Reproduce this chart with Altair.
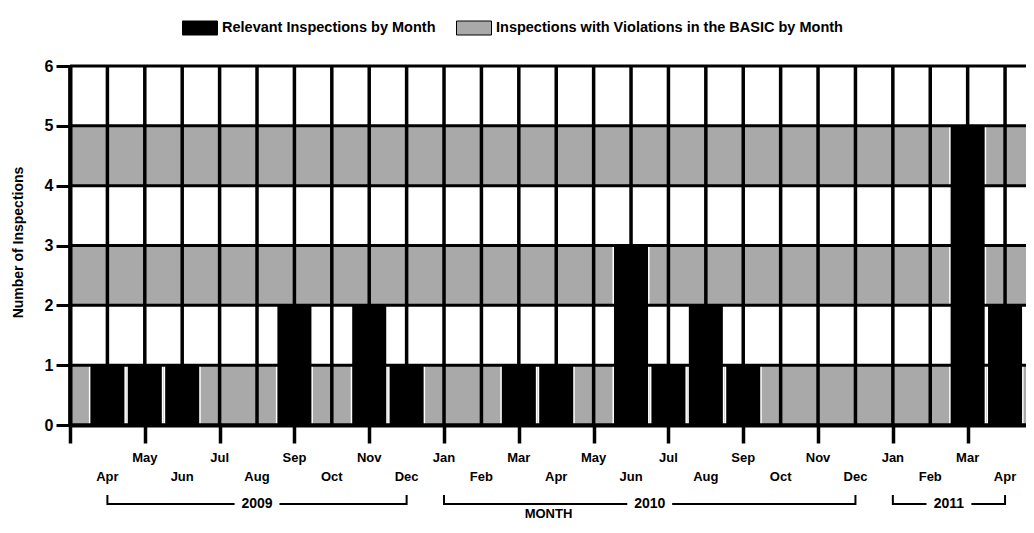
import altair as alt
import pandas as pd

FONT = "Liberation Sans"

# ---- data ----
month_labels = ["Apr", "May", "Jun", "Jul", "Aug", "Sep", "Oct", "Nov", "Dec",
                "Jan", "Feb", "Mar", "Apr", "May", "Jun", "Jul", "Aug", "Sep",
                "Oct", "Nov", "Dec", "Jan", "Feb", "Mar", "Apr"]
month_index = list(range(1, 26))
relevant = [1, 1, 1, 0, 0, 2, 0, 2, 1, 0, 0, 1, 1, 0, 3, 1, 2, 1, 0, 0, 0, 0, 0, 5, 2]
series_names = ["Relevant Inspections by Month",
                "Inspections with Violations in the BASIC by Month"]
band_low = [0, 2, 4]
band_high = [1, 3, 5]
y_levels = [0, 1, 2, 3, 4, 5, 6]
tick_index = list(range(0, 26))
years = ["2009", "2010", "2011"]
year_start = [1, 10, 22]
year_end = [9, 21, 25]
x_max = 25.56
y_max = 6

bars_df = pd.DataFrame({"i": month_index, "n": relevant, "z": 0,
                        "series": series_names[0]})
labels_df = pd.DataFrame({"i": month_index, "label": month_labels})
bands_df = pd.DataFrame({"lo": band_low, "hi": band_high, "x0": 0.0, "x1": x_max,
                         "series": series_names[1]})
vrule_df = pd.DataFrame({"i": tick_index, "y0": 0, "y1": y_max})
hrule_df = pd.DataFrame({"y": y_levels, "x0": 0.0, "x1": x_max})
year_df = pd.DataFrame({"year": years, "s": year_start, "e": year_end})

x_scale = alt.Scale(domain=[0, x_max], nice=False, zero=False)
y_scale = alt.Scale(domain=[0, y_max], nice=False)
color_scale = alt.Scale(domain=series_names, range=["#000000", "#a9a9a9"])

x_axis = alt.Axis(values=tick_index, labels=False, tickSize=18, tickWidth=3.5,
                  tickColor="black", domainColor="black", domainWidth=4, grid=False,
                  title="MONTH", titleFont=FONT, titleFontSize=13, titleFontWeight="bold",
                  titleColor="black", titleY=88, titleBaseline="middle", zindex=1)

y_axis = alt.Axis(values=y_levels, format="d", tickSize=14, tickWidth=3,
                  tickColor="black", domainColor="black", domainWidth=4, grid=False,
                  labelFont=FONT, labelFontSize=16, labelFontWeight="bold",
                  labelColor="black", labelPadding=3, labelFlush=False,
                  title="Number of Inspections", titleFont=FONT, titleFontSize=14,
                  titleFontWeight="bold", titleColor="black", titleX=-52, titleY=176,
                  titleAngle=270, titleAlign="center", titleBaseline="middle", zindex=1)

legend = alt.Legend(title=None, orient="none", legendX=112, legendY=-56,
                    direction="horizontal", symbolType="M-1,-0.4H1V0.4H-1Z",
                    symbolSize=1225, symbolStrokeColor="black", symbolStrokeWidth=1,
                    symbolOpacity=1, labelFont=FONT, labelFontSize=14.5,
                    labelFontWeight="bold", labelColor="black", labelLimit=0,
                    columnPadding=18, labelOffset=4, padding=0)

bands = alt.Chart(bands_df).mark_rect().encode(
    x=alt.X("x0:Q", scale=x_scale, axis=x_axis),
    x2="x1:Q",
    y=alt.Y("lo:Q", scale=y_scale, axis=y_axis),
    y2="hi:Q",
    color=alt.Color("series:N", scale=color_scale, legend=legend),
)

vrules = alt.Chart(vrule_df).mark_rule(color="black", strokeWidth=3.5).encode(
    x=alt.X("i:Q", scale=x_scale), y=alt.Y("y0:Q", scale=y_scale), y2="y1:Q"
)

bars = alt.Chart(bars_df).transform_filter("datum.n > 0").transform_calculate(
    l="datum.i - 0.475", r="datum.i + 0.475"
).mark_rect(stroke="white", strokeWidth=1.5).encode(
    x=alt.X("l:Q", scale=x_scale),
    x2="r:Q",
    y=alt.Y("n:Q", scale=y_scale),
    y2="z:Q",
    color=alt.Color("series:N", scale=color_scale, legend=legend),
)

hrules = alt.Chart(hrule_df).mark_rule(color="black", strokeWidth=3).encode(
    y=alt.Y("y:Q", scale=y_scale), x=alt.X("x0:Q", scale=x_scale), x2="x1:Q"
)

# staggered month labels: odd months on the lower row, even months on the upper row
lab = alt.Chart(labels_df)
lab_upper = lab.transform_filter("datum.i % 2 == 0").mark_text(
    font=FONT, fontSize=13, fontWeight="bold", color="black", baseline="middle",
    align="center").encode(x=alt.X("i:Q", scale=x_scale), y=alt.value(392),
                           text="label:N")
lab_lower = lab.transform_filter("datum.i % 2 == 1").mark_text(
    font=FONT, fontSize=13, fontWeight="bold", color="black", baseline="middle",
    align="center").encode(x=alt.X("i:Q", scale=x_scale), y=alt.value(411),
                           text="label:N")

yr = alt.Chart(year_df).transform_calculate(
    mid="(datum.s + datum.e) / 2", gl="(datum.s + datum.e) / 2 - 0.6",
    gr="(datum.s + datum.e) / 2 + 0.6"
)
br_left = yr.mark_rule(color="black", strokeWidth=2).encode(
    x=alt.X("s:Q", scale=x_scale), x2="gl:Q", y=alt.value(438)
)
br_right = yr.mark_rule(color="black", strokeWidth=2).encode(
    x=alt.X("gr:Q", scale=x_scale), x2="e:Q", y=alt.value(438)
)
br_end_s = yr.mark_rule(color="black", strokeWidth=2).encode(
    x=alt.X("s:Q", scale=x_scale), y=alt.value(429), y2=alt.value(439)
)
br_end_e = yr.mark_rule(color="black", strokeWidth=2).encode(
    x=alt.X("e:Q", scale=x_scale), y=alt.value(429), y2=alt.value(439)
)
yr_text = yr.mark_text(font=FONT, fontSize=14, fontWeight="bold", color="black",
                       baseline="middle", align="center").encode(
    x=alt.X("mid:Q", scale=x_scale), y=alt.value(438), text="year:N"
)

chart = alt.layer(
    bands, vrules, bars, hrules, lab_upper, lab_lower,
    br_left, br_right, br_end_s, br_end_e, yr_text
).properties(
    width=956, height=359,
    autosize=alt.AutoSizeParams(type="none"),
    padding={"left": 62, "top": 58, "right": 0, "bottom": 94},
    background="white",
).configure_view(stroke=None).configure(font=FONT)

chart.save("out.html", embed_options={"renderer": "svg", "actions": False})
